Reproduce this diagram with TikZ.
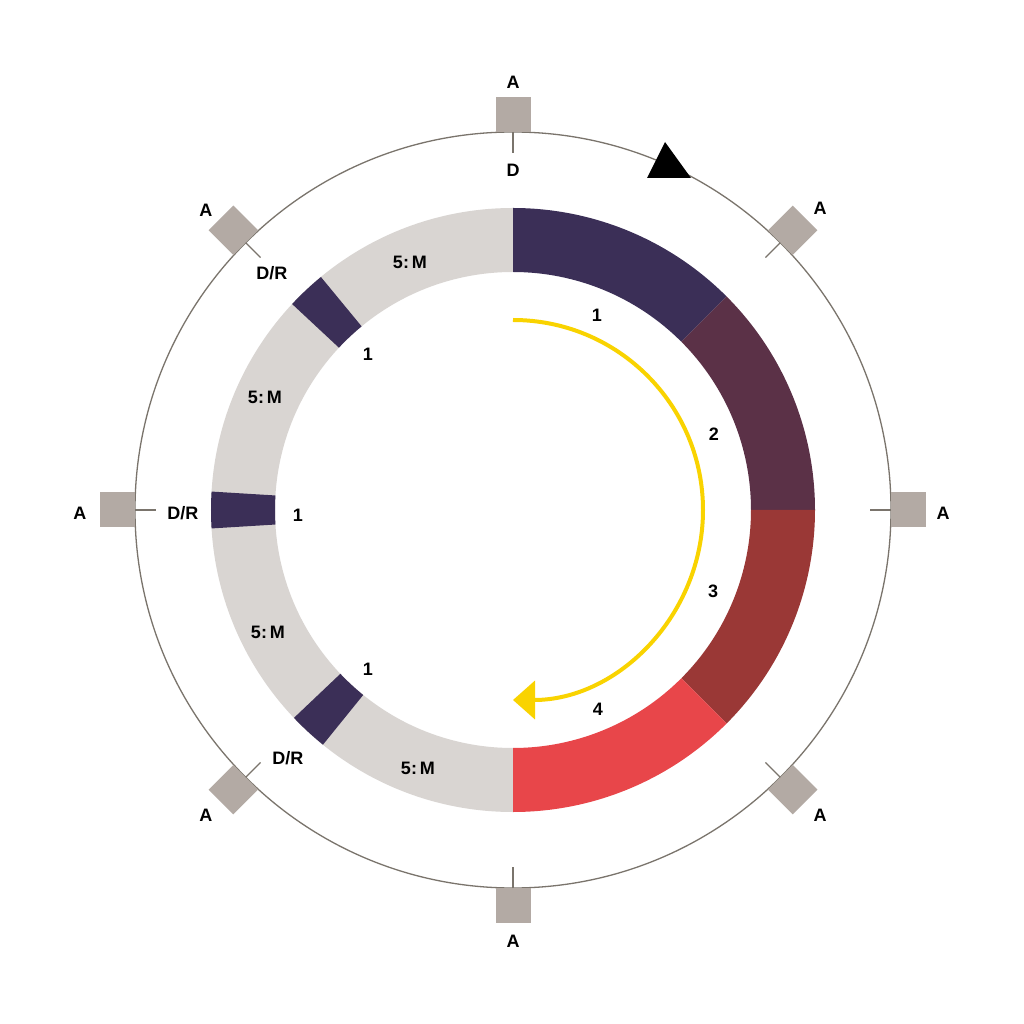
\documentclass[tikz,border=0pt]{standalone}
\usepackage{fontspec}
\setmainfont{Liberation Sans}
\usetikzlibrary{arrows.meta}
\definecolor{navy}{HTML}{3B2F57}
\definecolor{plum}{HTML}{5B3147}
\definecolor{brick}{HTML}{9A3836}
\definecolor{brightred}{HTML}{E8464A}
\definecolor{ringgray}{HTML}{D9D5D2}
\definecolor{sqgray}{HTML}{B3AAA4}
\definecolor{linegray}{HTML}{7A746C}
\definecolor{arrowyellow}{HTML}{F9D300}
\tikzset{
  sq/.style={fill=sqgray, minimum size=35pt, inner sep=0pt, draw=none},
  lbl/.style={font=\fontsize{18}{20}\selectfont\bfseries, inner sep=0pt, text=black},
  tickline/.style={draw=linegray, line width=1.1pt},
}
\newcommand{\ringseg}[3]{\fill[#3] (#1:302) arc (#1:#2:302) -- (#2:238) arc (#2:#1:238) -- cycle;}
\begin{document}
\begin{tikzpicture}[x=1pt,y=1pt]
\useasboundingbox[fill=white] (-513,-514) rectangle (511,510);
% ring
\ringseg{90}{270}{ringgray}
\ringseg{90}{45}{navy}
\ringseg{45}{0}{plum}
\ringseg{0}{-45}{brick}
\ringseg{-45}{-90}{brightred}
\ringseg{129.5}{137}{navy}
\ringseg{176.5}{183.5}{navy}
\ringseg{223.5}{231}{navy}
% outer circle
\draw[linegray, line width=1.3pt] (0,0) circle (378);
% squares and ticks
\foreach \a/\n in {90/t,45/tr,0/r,-45/br,-90/b,-135/bl,180/l,135/tl}{
  \node[sq, rotate=\a] (sq\n) at (\a:395.5) {};
  \draw[tickline] (\a:378) -- (\a:357);
}
% triangle
\fill[black] (152,368) -- (134,332) -- (178,332) -- cycle;
% labels outer
\node[lbl] (At) at (0,428) {A};
\node[lbl] (Dt) at (0,340) {D};
\node[lbl] (Ab) at (0,-431) {A};
\node[lbl] (Al) at (-433,-3) {A};
\node[lbl] (DRl) at (-330,-3) {D/R};
\node[lbl] (Ar) at (430,-3) {A};
\node[lbl] (Atl) at (-307,300) {A};
\node[lbl] (DRtl) at (-241,237) {D/R};
\node[lbl] (Atr) at (307,302) {A};
\node[lbl] (Abr) at (307,-305) {A};
\node[lbl] (Abl) at (-307,-305) {A};
\node[lbl] (DRbl) at (-225,-248) {D/R};
% ring labels
\node[lbl] (M1) at (-103,248) {5:\,M};
\node[lbl] (M2) at (-248,113) {5:\,M};
\node[lbl] (M3) at (-245,-122) {5:\,M};
\node[lbl] (M4) at (-95,-258) {5:\,M};
\node[lbl] (o1) at (-145,156) {1};
\node[lbl] (o2) at (-215,-5) {1};
\node[lbl] (o3) at (-145,-159) {1};
\node[lbl] (n1) at (84,195) {1};
\node[lbl] (n2) at (201,76) {2};
\node[lbl] (n3) at (200,-81) {3};
\node[lbl] (n4) at (85,-199) {4};
% yellow arrow
\coordinate (ys) at (0,190);
\draw[arrowyellow, line width=4pt, -{Triangle[length=22pt,width=38pt]}] (ys) arc (90:-90:190);
\end{tikzpicture}
\end{document}
